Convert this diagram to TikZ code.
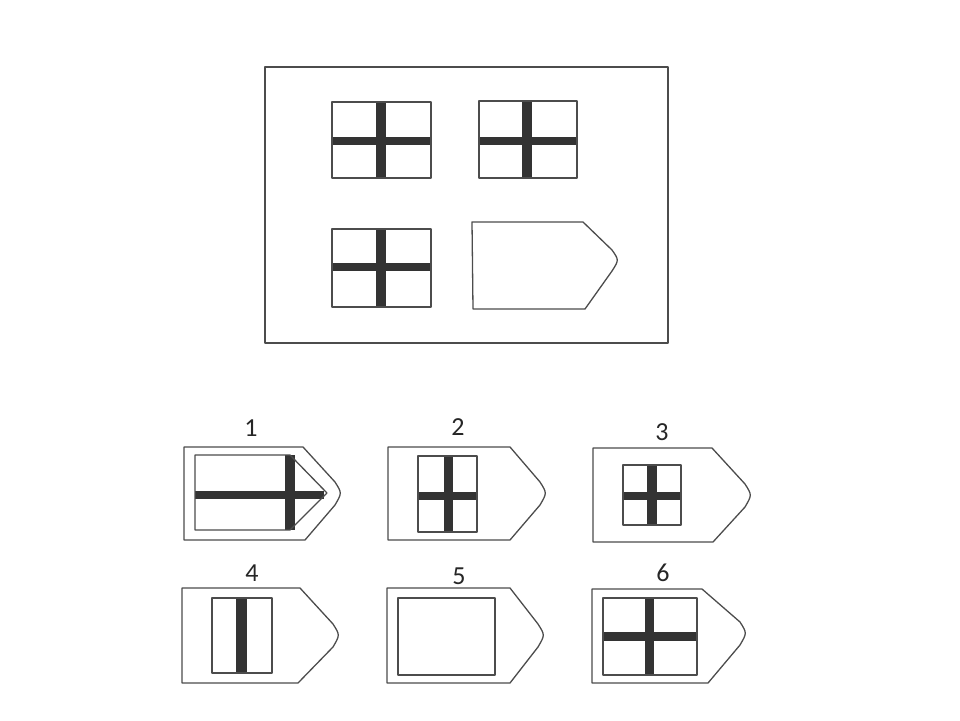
\documentclass[tikz,border=0pt]{standalone}
\usepackage{fontspec}
\setmainfont{Carlito}

\begin{document}
\begin{tikzpicture}[x=1pt, y=-1pt,
    outline/.style={draw=ink, line width=1.3pt, line join=round},
    bar/.style={fill=barink},
    numlabel/.style={font=\fontsize{26}{30}\selectfont, text=black!85, inner sep=0pt}]
    \colorlet{ink}{black!70}
    \colorlet{barink}{black!80}
    \useasboundingbox (0,0) rectangle (960,720);

    % puzzle frame
    \draw[outline] (265,67) rectangle (668,343);

    % flag top left
    \fill[bar] (376,102) rectangle (386,178);
    \fill[bar] (332,137) rectangle (431,145);
    \draw[outline] (332,102) rectangle (431,178);

    % flag top right
    \fill[bar] (522,101) rectangle (532,178);
    \fill[bar] (479,137) rectangle (577,145);
    \draw[outline] (479,101) rectangle (577,178);

    % flag bottom left
    \fill[bar] (376,229) rectangle (386,307);
    \fill[bar] (332,263) rectangle (431,271);
    \draw[outline] (332,229) rectangle (431,307);

    % missing piece
    \draw[outline] (472,222) -- (583,222) -- (612,250) .. controls (619,260) .. (612,271) -- (585,309) -- (473,309) -- cycle;

    % answer labels
    \node[numlabel] (l1) at (251,428) {1};
    \node[numlabel] (l2) at (458,427) {2};
    \node[numlabel] (l3) at (662,432) {3};
    \node[numlabel] (l4) at (252,573) {4};
    \node[numlabel] (l5) at (459,576) {5};
    \node[numlabel] (l6) at (663,573) {6};

    % answer 1
    \draw[outline] (184,447) -- (303,447) -- (335,482) .. controls (342,493) .. (335,505) -- (305,540) -- (184,540) -- cycle;
    \fill[bar] (285,455) rectangle (295,530);
    \fill[bar] (195,491) rectangle (324,499);
    \draw[outline] (195,455) -- (290,455) -- (327,493) -- (290,530) -- (195,530) -- cycle;

    % answer 2
    \draw[outline] (388,447) -- (510,447) -- (540,482) .. controls (547,493) .. (540,505) -- (510,540) -- (388,540) -- cycle;
    \fill[bar] (444,456) rectangle (453,532);
    \fill[bar] (418,492) rectangle (477,500);
    \draw[outline] (418,456) rectangle (477,532);

    % answer 3
    \draw[outline] (593,448) -- (712,448) -- (745,484) .. controls (752,495) .. (745,507) -- (713,542) -- (593,542) -- cycle;
    \fill[bar] (647,465) rectangle (657,525);
    \fill[bar] (623,492) rectangle (681,500);
    \draw[outline] (623,465) rectangle (681,525);

    % answer 4
    \draw[outline] (182,588) -- (300,588) -- (333,624) .. controls (340,635) .. (333,647) -- (298,683) -- (182,683) -- cycle;
    \fill[bar] (236,598) rectangle (247,673);
    \draw[outline] (212,598) rectangle (272,673);

    % answer 5
    \draw[outline] (387,588) -- (510,588) -- (538,624) .. controls (545,635) .. (538,647) -- (510,683) -- (387,683) -- cycle;
    \draw[outline] (398,598) rectangle (495,675);

    % answer 6
    \draw[outline] (592,589) -- (702,589) -- (740,622) .. controls (747,633) .. (740,645) -- (708,683) -- (592,683) -- cycle;
    \fill[bar] (645,598) rectangle (654,675);
    \fill[bar] (603,632) rectangle (697,641);
    \draw[outline] (603,598) rectangle (697,675);
\end{tikzpicture}
\end{document}
